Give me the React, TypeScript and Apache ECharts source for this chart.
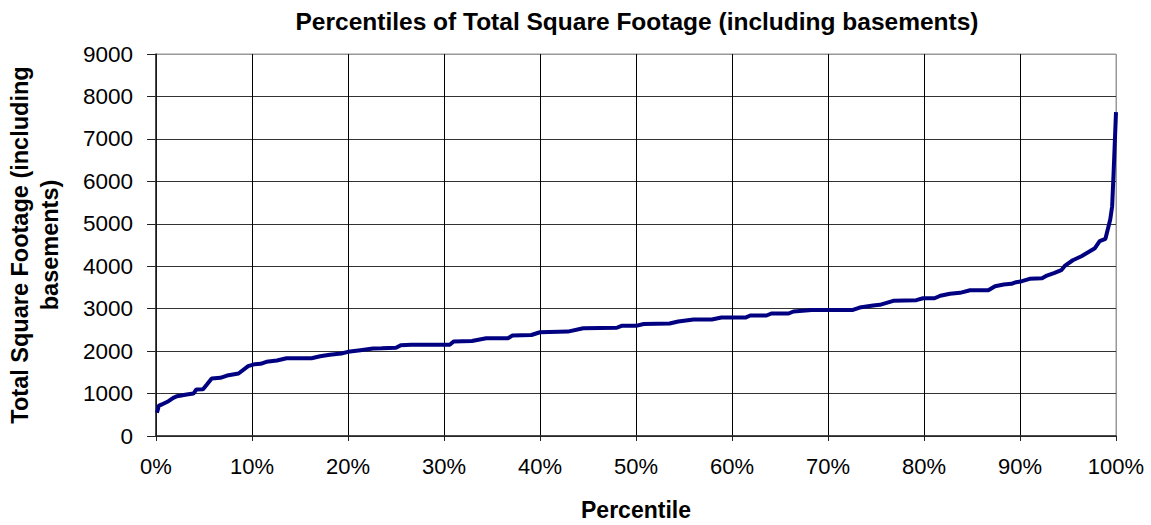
import React, { useEffect, useRef } from "react";
import * as echarts from "echarts";

const percentiles = [
  0.1, 0.3, 0.6, 1.3, 1.8, 2.2, 3.2, 3.9, 4.2, 4.9, 5.3, 5.8, 6.7, 7.4, 8.6, 9.6, 10.3, 10.9,
  11.5, 12.6, 13.6, 16.2, 17.1, 18.1, 19.3, 20.0, 21.3, 22.6, 23.5, 25.0, 25.5, 26.6, 30.6,
  31.0, 32.9, 34.4, 36.7, 37.1, 39.1, 40.0, 42.9, 44.5, 48.0, 48.5, 50.0, 50.8, 53.5, 54.4,
  56.0, 57.9, 58.9, 61.4, 61.9, 63.6, 64.1, 65.9, 66.4, 68.3, 72.6, 73.3, 74.7, 75.4, 76.8,
  79.2, 79.9, 81.1, 81.7, 82.7, 83.75, 84.8, 86.7, 87.4, 88.3, 89.1, 89.6, 90.2, 91.0, 92.3,
  92.8, 93.6, 94.3, 94.7, 95.5, 96.4, 97.1, 97.8, 98.3, 98.9, 99.4, 99.6, 99.75, 100,
];

const sqft = [
  547, 718, 742, 820, 900, 938, 978, 1000, 1095, 1100, 1213, 1355, 1370, 1425, 1472, 1645, 1692, 1700,
  1748, 1778, 1833, 1833, 1880, 1913, 1943, 1983, 2022, 2061, 2068, 2080, 2140, 2148, 2150,
  2226, 2240, 2304, 2304, 2367, 2380, 2445, 2460, 2540, 2550, 2595, 2595, 2640, 2650, 2697,
  2744, 2744, 2791, 2791, 2839, 2839, 2886, 2886, 2933, 2970, 2970, 3027, 3074, 3090, 3185,
  3200, 3246, 3246, 3305, 3350, 3373, 3435, 3435, 3530, 3569, 3585, 3624, 3647, 3702, 3718,
  3781, 3844, 3906, 4016, 4141, 4236, 4330, 4424, 4590, 4645, 5100, 5414, 6200, 7630,
];

const titleText = "Percentiles of Total Square Footage (including basements)";
const xName = "Percentile";
const yName = "Total Square Footage (including\nbasements)";

const FONT = "Arial, 'Liberation Sans', sans-serif";

export default function App() {
  const ref = useRef<HTMLDivElement>(null);

  useEffect(() => {
    if (!ref.current) return;
    const chart = echarts.init(ref.current, null, { renderer: "svg" });
    const data = percentiles.map((p, i) => [p, sqft[i]]);
    const yColors = ["#333", "#333", "#333", "#333", "#333", "#333", "#333", "#333", "#333", "#999"];
    const xColors = ["#000", "#000", "#000", "#000", "#000", "#000", "#000", "#000", "#000", "#000", "#999"];
    chart.setOption({
      animation: false,
      backgroundColor: "#fff",
      title: {
        text: titleText,
        left: 632,
        top: 4,
        textAlign: "center",
        textStyle: { fontFamily: FONT, fontWeight: "bold", fontSize: 24.5, color: "#000" },
      },
      grid: {
        left: 156,
        top: 54,
        width: 960,
        height: 382,
        containLabel: false,
        outerBoundsMode: "none",
        show: true,
        borderColor: "#999",
        borderWidth: 1,
        backgroundColor: "#fff",
      },
      xAxis: {
        type: "value",
        min: 0,
        max: 100,
        interval: 10,
        name: xName,
        nameLocation: "middle",
        nameGap: 62,
        nameTextStyle: { fontFamily: FONT, fontWeight: "bold", fontSize: 23, color: "#000" },
        axisLine: { show: true, lineStyle: { color: "#222", width: 1.5 } },
        axisTick: { show: true, length: 5, lineStyle: { color: "#222" } },
        axisLabel: {
          formatter: "{value}%",
          margin: 19,
          fontFamily: FONT,
          fontSize: 22,
          color: "#000",
        },
        splitLine: { show: true, lineStyle: { color: xColors, width: 1 } },
      },
      yAxis: {
        type: "value",
        min: 0,
        max: 9000,
        interval: 1000,
        name: yName,
        nameLocation: "middle",
        nameGap: 91,
        nameRotate: 90,
        nameTextStyle: {
          fontFamily: FONT,
          fontWeight: "bold",
          fontSize: 23.5,
          lineHeight: 30,
          color: "#000",
          align: "center",
        },
        axisLine: { show: true, lineStyle: { color: "#222", width: 1.5 } },
        axisTick: { show: true, length: 9, inside: false, lineStyle: { color: "#222" } },
        axisLabel: {
          margin: 23,
          fontFamily: FONT,
          fontSize: 22.5,
          color: "#000",
          formatter: (v: number) => String(v),
        },
        splitLine: { show: true, lineStyle: { color: yColors, width: 1 } },
      },
      series: [
        {
          type: "line",
          data,
          showSymbol: false,
          symbol: "none",
          lineStyle: { color: "#000080", width: 4 },
          itemStyle: { color: "#000080" },
        },
      ],
    });
    return () => chart.dispose();
  }, []);

  return (
    <div
      ref={ref}
      style={{ position: "fixed", left: 0, top: 0, width: 1151, height: 525, background: "#fff" }}
    />
  );
}
